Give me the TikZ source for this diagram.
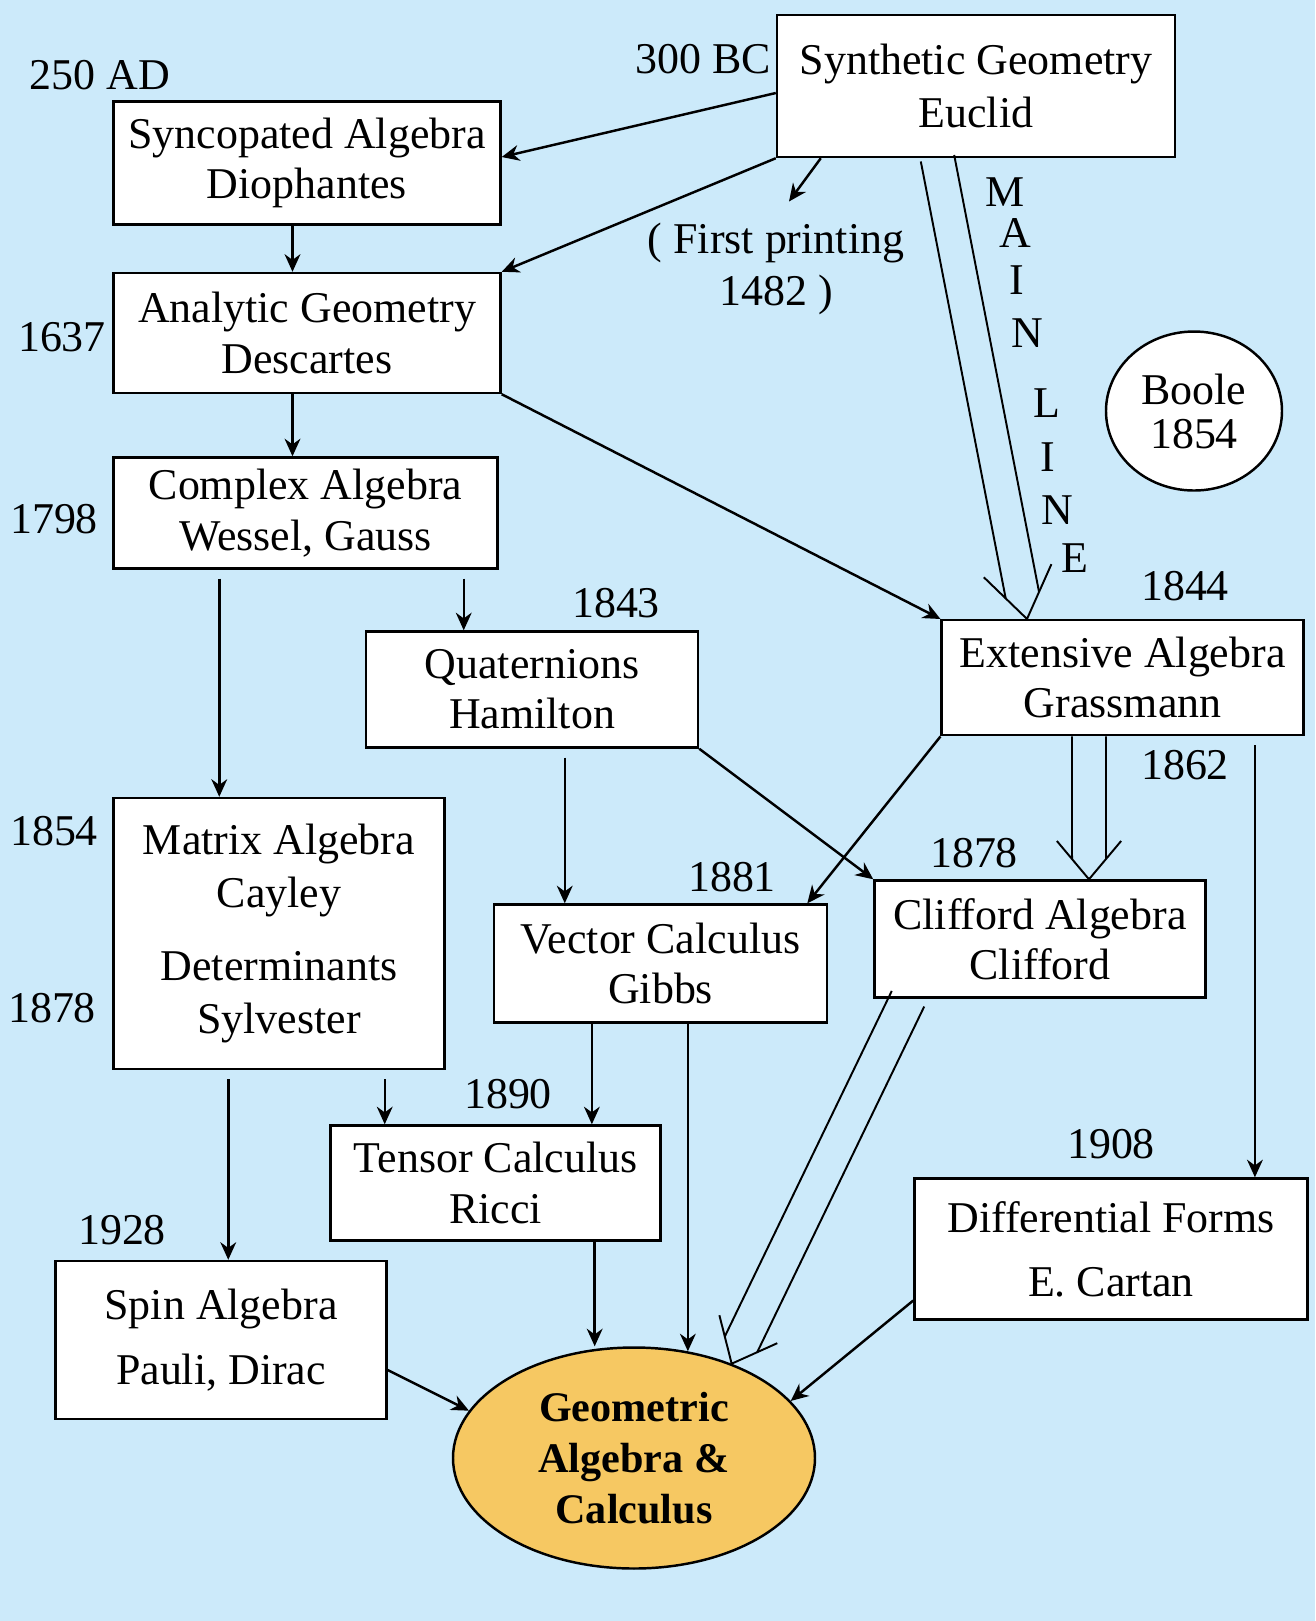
\documentclass[tikz,border=0pt]{standalone}
\usepackage{fontspec}
\setmainfont{Liberation Serif}
\usepackage{tikz}
\usetikzlibrary{shapes.geometric,arrows.meta,positioning,calc}
\usepackage{xcolor}
\definecolor{skyback}{RGB}{204,234,250}
\definecolor{goldfill}{RGB}{246,200,98}

\begin{document}
\begin{tikzpicture}[
  era/.style={draw, fill=white, line width=0.7pt, align=center, inner sep=2pt, font=\fontsize{12.5}{14.3}\selectfont},
  goal/.style={draw, ellipse, fill=goldfill, line width=0.7pt, align=center, inner sep=0pt, font=\fontsize{12}{14.6}\selectfont\bfseries},
  yr/.style={inner sep=1pt, font=\fontsize{12.5}{15}\selectfont},
  arr/.style={-{Stealth[length=5pt, width=4.5pt]}, line width=0.7pt},
  hollow/.style={line width=0.55pt},
  gap/.style={shorten <=2.5pt},
]

\useasboundingbox (0,0) rectangle (13.15,-16.21);
\fill[skyback] (0,0) rectangle (13.15,-16.21);

% ─── Ancient roots ───
\node[era, minimum width=3.98cm, minimum height=1.42cm, font=\fontsize{12.5}{15}\selectfont] (euclid) at (9.76,-0.86) {Synthetic Geometry\\Euclid};
\node[era, minimum width=3.87cm, minimum height=1.23cm] (dioph) at (3.07,-1.63) {Syncopated Algebra\\Diophantes};
\node[yr] (y300) at (7.03,-0.59) {300 BC};
\node[yr] (y250) at (1.00,-0.755) {250 AD};
\node[yr, align=center] (print) at (7.76,-2.69) {( First printing\\1482 )};

% ─── Left column ───
\node[era, minimum width=3.87cm, minimum height=1.20cm] (descartes) at (3.07,-3.33) {Analytic Geometry\\Descartes};
\node[era, minimum width=3.84cm, minimum height=1.11cm] (complex) at (3.055,-5.13) {Complex Algebra\\Wessel, Gauss};
\node[era, minimum width=3.31cm, minimum height=2.71cm, font=\fontsize{12.5}{15}\selectfont] (matrix) at (2.79,-9.335) {Matrix Algebra\\Cayley\\[6pt]Determinants\\Sylvester};
\node[era, minimum width=3.31cm, minimum height=1.58cm] (spin) at (2.21,-13.40) {Spin Algebra\\[4pt]Pauli, Dirac};
\node[yr] (y1637) at (0.62,-3.37) {1637};
\node[yr] (y1798) at (0.54,-5.19) {1798};
\node[yr] (y1854) at (0.54,-8.31) {1854};
\node[yr] (y1878a) at (0.52,-10.08) {1878};
\node[yr] (y1928) at (1.22,-12.30) {1928};

% ─── Middle column ───
\node[era, minimum width=3.32cm, minimum height=1.16cm] (quat) at (5.32,-6.895) {Quaternions\\Hamilton};
\node[era, minimum width=3.33cm, minimum height=1.18cm] (vector) at (6.606,-9.635) {Vector Calculus\\Gibbs};
\node[era, minimum width=3.30cm, minimum height=1.15cm] (tensor) at (4.957,-11.83) {Tensor Calculus\\Ricci};
\node[yr] (y1843) at (6.16,-6.03) {1843};
\node[yr] (y1881) at (7.32,-8.77) {1881};
\node[yr] (y1890) at (5.08,-10.94) {1890};

% ─── Right column ───
\node[era, minimum width=3.62cm, minimum height=1.15cm] (ext) at (11.227,-6.777) {Extensive Algebra\\Grassmann};
\node[era, minimum width=3.31cm, minimum height=1.17cm] (clifford) at (10.40,-9.39) {Clifford Algebra\\Clifford};
\node[era, minimum width=3.93cm, minimum height=1.41cm] (diff) at (11.11,-12.49) {Differential Forms\\[4pt]E. Cartan};
\node[era, ellipse, inner sep=0pt, minimum width=1.76cm, minimum height=1.59cm, font=\fontsize{12.5}{12.5}\selectfont] (boole) at (11.94,-4.11) {Boole\\1854};
\node[yr] (y1844) at (11.85,-5.86) {1844};
\node[yr] (y1862) at (11.85,-7.65) {1862};
\node[yr] (y1878b) at (9.74,-8.53) {1878};
\node[yr] (y1908) at (11.11,-11.44) {1908};

% ─── Goal ───
\node[goal, minimum width=3.62cm, minimum height=2.21cm] (geom) at (6.34,-14.58) {Geometric\\Algebra \&\\Calculus};

% ─── MAIN LINE lettering ───
\foreach \ch/\x/\y [count=\k] in {M/10.05/1.92, A/10.15/2.33, I/10.17/2.80, N/10.27/3.33, L/10.47/4.03, I/10.48/4.57, N/10.57/5.10, E/10.75/5.58}
  \node[yr] (ml\k) at (\x,-\y) {\ch};

% ─── Arrows from Euclid ───
\draw[arr] ([yshift=-0.07cm]euclid.west) -- ([yshift=0.06cm]dioph.east);
\draw[arr] (euclid.south west) -- (descartes.north east);
\draw[arr] ([xshift=0.45cm]euclid.south west) -- ([xshift=0.13cm,yshift=0.17cm]print.north);

% ─── Left column arrows ───
\draw[arr] ([xshift=-0.145cm]dioph.south) -- ([xshift=-0.145cm]descartes.north);
\draw[arr] ([xshift=-0.145cm]descartes.south) -- ([xshift=-0.145cm]descartes.south |- complex.north);
\draw[arr] (descartes.south east) -- (ext.north west);
\draw[arr, gap] ([xshift=-0.35cm]complex.south east) -- ([xshift=-0.35cm]complex.south east |- quat.north);
\draw[arr, gap] ([xshift=1.07cm]complex.south west) -- ([xshift=1.07cm]complex.south west |- matrix.north);
\draw[arr, gap] ([xshift=1.16cm]matrix.south west) -- ([xshift=1.16cm]matrix.south west |- spin.north);
\draw[arr, gap] ([xshift=-0.61cm]matrix.south east) -- ([xshift=-0.61cm]matrix.south east |- tensor.north);

% ─── Middle arrows ───
\draw[arr, gap] ([xshift=2.0cm]quat.south west) -- ([xshift=2.0cm]quat.south west |- vector.north);
\draw[arr] (quat.south east) -- (clifford.north west);
\draw[arr] (ext.south west) -- ([xshift=-0.21cm]vector.north east);
\draw[arr, gap] ([xshift=-0.5cm]ext.south east) -- ([xshift=-0.5cm]ext.south east |- diff.north);
\draw[arr] ([xshift=0.99cm]vector.south west) -- ([xshift=0.99cm]vector.south west |- tensor.north);

% ─── Into the goal ───
\draw[arr] ([xshift=0.99cm]tensor.south) -- ([xshift=0.99cm]tensor.south |- geom.north);
\draw[arr] ([xshift=1.95cm]vector.south west) -- ([xshift=1.95cm,yshift=-0.05cm]vector.south west |- geom.north);
\draw[arr] ([yshift=-0.30cm]spin.east) -- (geom.164);
\draw[arr] ([yshift=-0.515cm]diff.west) -- (geom.20);

% ─── Hollow double arrows ───
\coordinate (mlS) at ([xshift=-0.385cm]euclid.south);
\coordinate (mlT) at ([xshift=-0.957cm]ext.north);
\draw[hollow] ($(mlS)!0.17cm!-90:(mlT)$) -- ($(mlT)!0.296cm!35:(mlS)$);
\draw[hollow] ($(mlS)!0.17cm!90:(mlT)$) -- ($(mlT)!0.296cm!-35:(mlS)$);
\draw[hollow] ($(mlT)!0.6cm!35:(mlS)$) -- (mlT) -- ($(mlT)!0.6cm!-35:(mlS)$);

\coordinate (exS) at ([xshift=-0.337cm]ext.south);
\coordinate (exT) at (exS |- clifford.north);
\draw[hollow] ($(exS)!0.17cm!-90:(exT)$) -- ($(exT)!0.264cm!40:(exS)$);
\draw[hollow] ($(exS)!0.17cm!90:(exT)$) -- ($(exT)!0.264cm!-40:(exS)$);
\draw[hollow] ($(exT)!0.5cm!40:(exS)$) -- (exT) -- ($(exT)!0.5cm!-40:(exS)$);

\coordinate (cfS) at ([xshift=-1.32cm]clifford.south);
\coordinate (cfT) at (geom.44);
\draw[hollow] ($(cfS)!0.18cm!-90:(cfT)$) -- ($(cfT)!0.28cm!40:(cfS)$);
\draw[hollow] ($(cfS)!0.18cm!90:(cfT)$) -- ($(cfT)!0.28cm!-40:(cfS)$);
\draw[hollow] ($(cfT)!0.5cm!40:(cfS)$) -- (cfT) -- ($(cfT)!0.5cm!-40:(cfS)$);

\end{tikzpicture}
\end{document}
